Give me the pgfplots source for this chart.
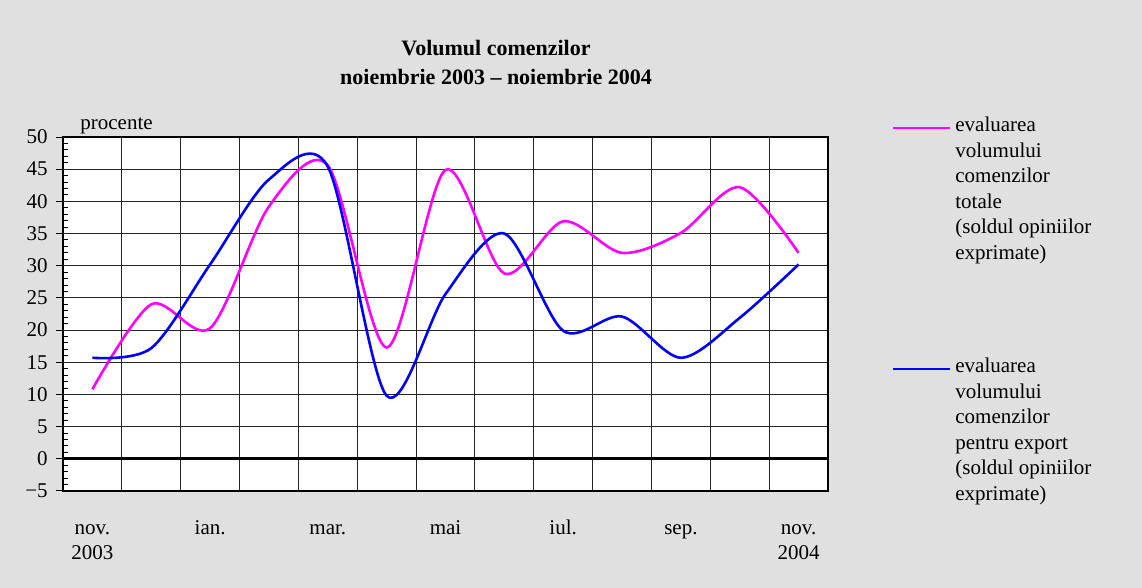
\documentclass[border=0pt]{standalone}
\usepackage{fontspec}
\setmainfont{Liberation Serif}
\usepackage{pgfplots}
\pgfplotsset{compat=1.18}
\definecolor{mag}{RGB}{255,0,255}
\definecolor{blu}{RGB}{0,0,255}
\pgfplotstableread{
x y
0 10.8
1 24.0
2 20.3
3 39.2
4 45.6
5 17.3
6 44.9
7 28.8
8 36.9
9 32.0
10 35.1
11 42.2
12 32.0
}\totale
\pgfplotstableread{
x y
0 15.7
1 17.2
2 30.2
3 43.4
4 45.4
5 9.8
6 25.6
7 35.0
8 19.9
9 22.1
10 15.7
11 21.9
12 30.2
}\export
\begin{document}
\fontsize{10.5}{12.75}\selectfont
\begin{tikzpicture}[x=1pt,y=1pt]
\fill[black!12] (0,0) rectangle (571,294);
\useasboundingbox (0,0) rectangle (571,294);
\begin{axis}[at={(31.5pt,48.5pt)}, anchor=south west, scale only axis,
  width=382.5pt, height=177pt,
  xmin=-0.5, xmax=12.5, ymin=-5, ymax=50,
  axis background/.style={fill=white},
  axis line style={black, line width=0.7pt},
  xtick={0,2,...,12},
  xticklabels={{\strut nov.\\2003},{\strut ian.},{\strut mar.},{\strut mai},{\strut iul.},{\strut sep.},{\strut nov.\\2004}},
  xticklabel style={align=center, anchor=north, yshift=-9pt, font=\fontsize{10.5}{12.75}\selectfont},
  minor xtick={-0.5,0.5,...,12.5},
  xtick style={draw=none},
  xminorgrids, ymajorgrids,
  minor grid style={black!85, line width=0.5pt},
  major grid style={black!85, line width=0.5pt},
  ytick={-5,0,...,50},
  yticklabels={−5,0,5,10,15,20,25,30,35,40,45,50},
  yticklabel style={xshift=-4pt, font=\fontsize{10.5}{12.75}\selectfont},
  ytick pos=left,
  minor y tick num=4,
  ytick style={black, line width=0.5pt},
  tick align=inside,
  major tick length=3.5pt,
  minor tick length=2.5pt,
  major tick style={xshift=-3.5pt},
  clip=false,
]
\addplot[black, line width=1.4pt] coordinates {(-0.5,0) (12.5,0)};
\addplot[draw=mag, line width=1.3pt, smooth, tension=0.5] table[x=x,y=y] {\totale};
\addplot[draw=blu, line width=1.3pt, smooth, tension=0.5] table[x=x,y=y] {\export};
\end{axis}
\node[anchor=base west, inner sep=0pt] at (40,229) {procente};
\node[align=center, font=\bfseries\fontsize{11}{14.5}\selectfont] at (248,263) {Volumul comenzilor\\noiembrie 2003 – noiembrie 2004};
% legend
\draw[mag, line width=1.3pt] (446.5,230) -- (475,230);
\node[anchor=north west, inner sep=0pt, align=left] at (477.5,235.5) {evaluarea\\volumului\\comenzilor\\totale\\(soldul opiniilor\\exprimate)};
\draw[blu, line width=1.3pt] (446.5,109.5) -- (475,109.5);
\node[anchor=north west, inner sep=0pt, align=left] at (477.5,115) {evaluarea\\volumului\\comenzilor\\pentru export\\(soldul opiniilor\\exprimate)};
\end{tikzpicture}
\end{document}
